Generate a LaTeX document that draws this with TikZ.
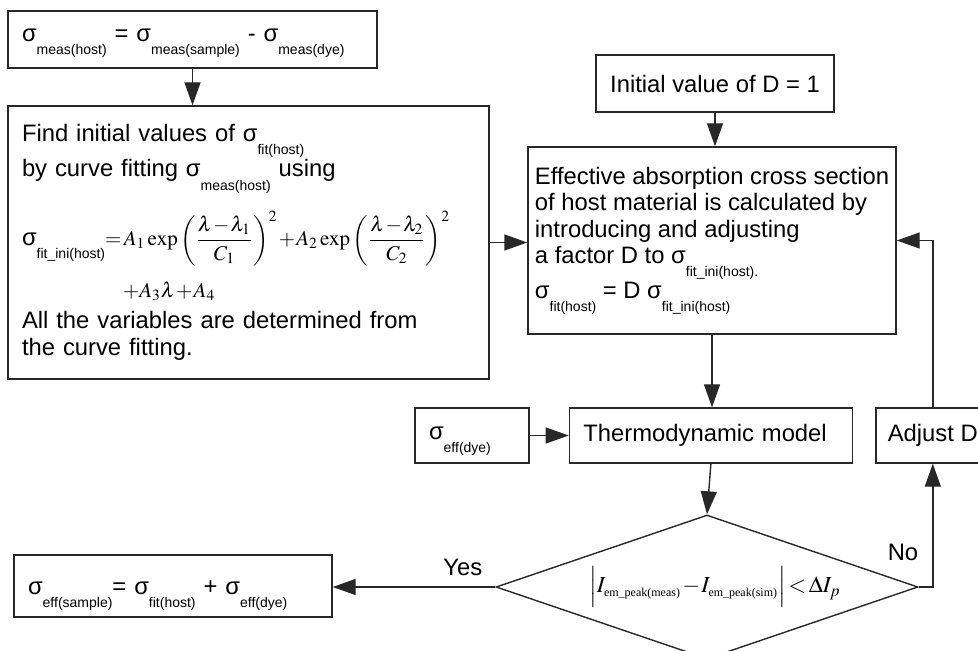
\documentclass[tikz,border=0pt]{standalone}
\usepackage{mathptmx}
\usepackage[no-math]{fontspec}
\setmainfont{Liberation Sans}
\newfontfamily\timesfont{Liberation Serif}
\usetikzlibrary{shapes.geometric, arrows.meta, positioning}
\definecolor{linegray}{RGB}{40, 40, 40}
\newcommand{\flowfont}{\fontsize{11.9}{13.3}\selectfont}
\newcommand{\lowsub}[1]{\raisebox{-0.55em}{\fontsize{7}{8}\selectfont #1}}
\newcommand{\tinysub}[1]{\hbox{\timesfont\fontsize{6}{7}\selectfont #1}}

\begin{document}
\begin{tikzpicture}[
    x=0.5pt, y=-0.5pt,
    font=\flowfont,
    node distance=19.5pt and 19.5pt,
    blk/.style={rectangle, draw=linegray, line width=0.7pt, align=left,
                inner xsep=7pt, inner ysep=0pt},
    cblk/.style={blk, align=center, inner xsep=0pt},
    decision/.style={diamond, draw=linegray, line width=0.7pt, aspect=2.93,
                minimum width=211pt, minimum height=72pt, inner sep=0pt},
    arr/.style={-{Triangle[length=11.5pt, width=8pt]}, draw=linegray, line width=0.7pt},
    tag/.style={inner sep=0pt}
]
\useasboundingbox (0,0) rectangle (978,651);

% =========== left column: measured host and curve fit ===========
\node[blk, text width=170.5pt, minimum height=28.5pt] (meas) at (192.5,39.5)
    {\rule{0pt}{10pt}σ\lowsub{meas(host)} = σ\lowsub{meas(sample)} - σ\lowsub{meas(dye)}};
\node[blk, text width=226.5pt, minimum height=136.5pt] (fit) at (248.5,242.5)
    {Find initial values of σ\lowsub{fit(host)}\\
     by curve fitting σ\lowsub{meas(host)} using\\[8pt]
     σ\lowsub{fit\_ini(host)}{\fontsize{10.5}{12}\selectfont
       $\medmuskip=1mu\thickmuskip=2mu\displaystyle
       =A_1\exp\left(\frac{\lambda-\lambda_1}{C_1}\right)^{2}
       +A_2\exp\left(\frac{\lambda-\lambda_2}{C_2}\right)^{2}$}\\[7pt]
     \hspace*{50.5pt}{\fontsize{10.5}{12}\selectfont
       $\medmuskip=1mu\thickmuskip=2mu +A_3\lambda+A_4$}\\[2.5pt]
     All the variables are determined from\\
     the curve fitting.};

% =========== right column: factor D ===========
\node[cblk, minimum width=119pt, minimum height=28.5pt] (init) at (715,83.5)
    {Initial value of D = 1};
\node[blk, inner xsep=0pt, minimum width=184pt, minimum height=93.5pt] (eff) at (712,240.5)
    {Effective absorption cross section\\
     of host material is calculated by\\
     introducing and adjusting\\
     a factor D to σ\lowsub{fit\_ini(host).}\\
     σ\lowsub{fit(host)} = D σ\lowsub{fit\_ini(host)}};

% =========== model row ===========
\node[blk, text width=43pt, minimum height=27.5pt] (dye) at (472,435.5)
    {\rule{0pt}{12pt}σ\lowsub{eff(dye)}};
\node[blk, text width=127.5pt, minimum height=27.5pt, right=of dye] (thermo)
    {Thermodynamic model};
\node[cblk, minimum width=57pt, minimum height=27.5pt, right=11pt of thermo] (adjust)
    {Adjust D};

% =========== check and result ===========
\node[decision] (dec) at (707,587)
    {\fontsize{11.5}{13}\selectfont
     \hspace*{8pt}$\medmuskip=1mu\thickmuskip=2mu
     \Bigl|I_{\tinysub{em\_peak(meas)}}-I_{\tinysub{em\_peak(sim)}}\Bigr|<\Delta I_p$};
\node[blk, text width=145pt, minimum height=31pt] (result) at (173,586)
    {\rule{0pt}{16pt}σ\lowsub{eff(sample)}= σ\lowsub{fit(host)} + σ\lowsub{eff(dye)}};
\node[tag] (no) at (903,552) {No};

\draw[arr] (meas.south) -- (meas.south |- fit.north);
\draw[arr] (fit.east) -- (fit.east -| eff.west);
\draw[arr] (init.south) -- (init.south |- eff.north);
\draw[arr] (eff.south) -- (eff.south |- thermo.north);
\draw[arr] (dye) -- (thermo);
\draw[arr] (thermo.south) -- (dec.north);
\draw[arr] (dec.west) -- (dec.west -| result.east)
    node[pos=0.2, above, yshift=2pt] (yes) {Yes};
\draw[arr] (dec.east) -| (adjust.south);
\draw[arr] (adjust.north) |- (eff.east);

\end{tikzpicture}
\end{document}
